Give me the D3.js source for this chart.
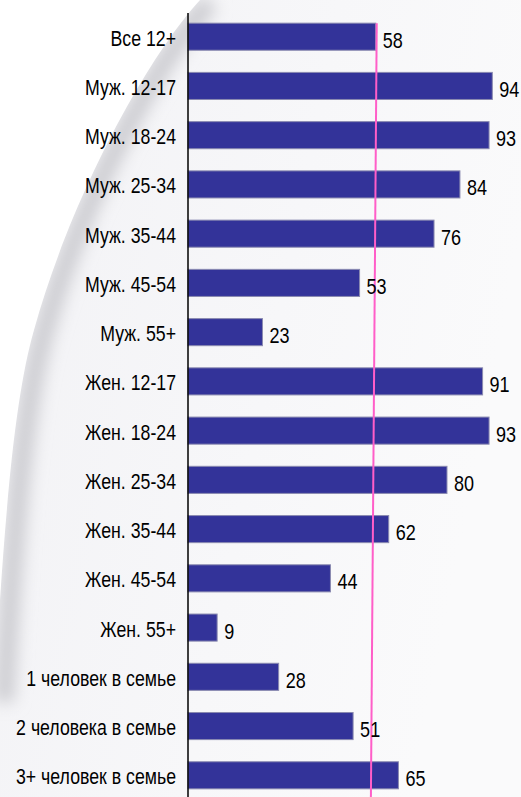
<!DOCTYPE html>
<html>
<head>
    <meta charset="utf-8">
    <title>Охват по группам</title>
    <script src="https://d3js.org/d3.v7.min.js"></script>
    <style>
        body { margin: 0; }
        svg { display: block; }
        .cat text {
            font-family: "Liberation Sans", Arial, sans-serif;
            font-size: 21.6px;
            fill: #000;
        }
        .val {
            font-family: "Liberation Sans", Arial, sans-serif;
            font-size: 22px;
            fill: #000;
        }
    </style>
</head>
<body>
    <svg width="521" height="797"></svg>
    <script>
        var categories = ["Все 12+", "Муж. 12-17", "Муж. 18-24", "Муж. 25-34", "Муж. 35-44", "Муж. 45-54", "Муж. 55+",
                          "Жен. 12-17", "Жен. 18-24", "Жен. 25-34", "Жен. 35-44", "Жен. 45-54", "Жен. 55+",
                          "1 человек в семье", "2 человека в семье", "3+ человек в семье"];
        var values = [58, 94, 93, 84, 76, 53, 23, 91, 93, 80, 62, 44, 9, 28, 51, 65];
        // reference line (slightly tilted in the original)
        var refTop = 58.3, refBottom = 56.5;

        var svg = d3.select("svg"),
            W = +svg.attr("width"),
            H = +svg.attr("height"),
            narrow = 0.82; // original uses a condensed face

        var x = d3.scaleLinear().domain([0, 94]).range([188, 492.3]);
        var y = d3.scaleBand().domain(categories).range([1, 811]).paddingInner(0.45).paddingOuter(0.45);

        // background with grey swoosh on the left
        var defs = svg.append("defs");
        var bg = defs.append("linearGradient").attr("id", "bg").attr("x1", 0).attr("y1", 0).attr("x2", 1).attr("y2", 0.3);
        bg.append("stop").attr("offset", "0%").attr("stop-color", "#f2f2f5");
        bg.append("stop").attr("offset", "60%").attr("stop-color", "#f7f7f9");
        bg.append("stop").attr("offset", "100%").attr("stop-color", "#fafafb");
        defs.append("filter").attr("id", "blur").attr("x", "-50%").attr("y", "-50%").attr("width", "200%").attr("height", "200%")
            .append("feGaussianBlur").attr("stdDeviation", 8);

        svg.append("rect").attr("width", W).attr("height", H).attr("fill", "url(#bg)");

        var curve = "M200,0 C145,60 70,200 34,330 C14,400 4,520 -6,700";
        svg.append("path").attr("d", curve)
            .attr("fill", "none").attr("stroke", "#cdcdd2").attr("stroke-width", 20)
            .attr("transform", "translate(10,2)")
            .attr("filter", "url(#blur)");
        svg.append("path").attr("d", curve + " L-10,0 Z").attr("fill", "#ffffff");

        var g = svg.append("g");

        g.selectAll(".bar")
            .data(values)
            .enter().append("rect")
            .attr("class", "bar")
            .attr("x", x(0))
            .attr("y", (d, i) => y(categories[i]))
            .attr("width", d => x(d) - x(0))
            .attr("height", y.bandwidth())
            .attr("fill", "#333399")
            .attr("stroke", "#8a8ab0")
            .attr("stroke-width", 1);

        // reference line on top of the bars
        g.append("line")
            .attr("x1", x(refTop)).attr("y1", y(categories[0]))
            .attr("x2", x(refBottom)).attr("y2", H)
            .attr("stroke", "#ff5ec8").attr("stroke-width", 2);

        g.selectAll(".val")
            .data(values)
            .enter().append("text")
            .attr("class", "val")
            .attr("transform", (d, i) => "translate(" + (x(d) + 7) + "," + (y(categories[i]) + y.bandwidth() / 2 + 11) + ") scale(" + narrow + ",1)")
            .text(d => d);

        // category axis
        var axis = g.append("g")
            .attr("class", "cat")
            .attr("transform", "translate(" + x(0) + ",0)")
            .call(d3.axisLeft(y).tickSize(0).tickPadding(12 / narrow));
        axis.select(".domain").remove();
        axis.selectAll("text")
            .attr("dy", "0.42em")
            .attr("font-family", null).attr("font-size", null)
            .attr("transform", "scale(" + narrow + ",1)");
        axis.append("line")
            .attr("x1", 0).attr("x2", 0)
            .attr("y1", 13).attr("y2", H)
            .attr("stroke", "#000").attr("stroke-width", 1.5);
    </script>
</body>
</html>
